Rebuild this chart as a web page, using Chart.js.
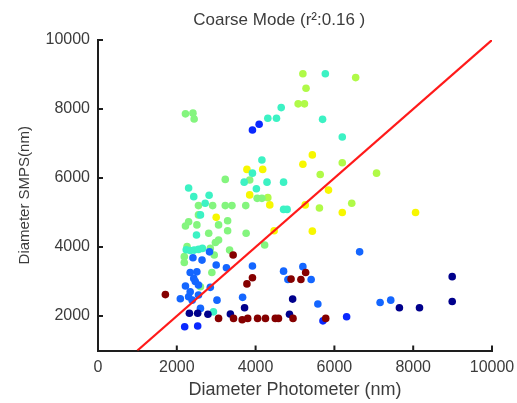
<!DOCTYPE html>
<html>
<head>
<meta charset="utf-8">
<script src="https://cdn.jsdelivr.net/npm/chart.js@4/dist/chart.umd.min.js"></script>
<style>
  html, body { margin: 0; padding: 0; background: #ffffff; }
  #wrap { width: 517px; height: 403px; }
</style>
</head>
<body>
<div id="wrap"><canvas id="c" width="517" height="403"></canvas></div>
<script>
// ---- data ----
const chartTitle = 'Coarse Mode (r\u00B2:0.16 )';
const xTitle = 'Diameter Photometer (nm)';
const yTitle = 'Diameter SMPS(nm)';
const xTicks = [0, 2000, 4000, 6000, 8000, 10000];
const yTicks = [2000, 4000, 6000, 8000, 10000];

const navyX = [8990, 8990, 7650, 8160, 4940, 4860, 3720, 2320, 2530, 2790, 3360];
const navyY = [3140, 2420, 2240, 2240, 2490, 2050, 2240, 2080, 2080, 2050, 2060];

const blueX = [3920, 4090, 6310, 5710, 2200, 2530];
const blueY = [7390, 7560, 1980, 1860, 1690, 1710];

const azureX = [6640, 5200, 5410, 5580, 7160, 7430, 4710, 4820, 3920, 3670, 3020, 3260, 3000, 2830, 2410, 2640, 2340, 2510, 2430, 2470, 2220, 2850, 2090, 2300, 2390, 2550, 2600, 2550, 2340];
const azureY = [3860, 3430, 3060, 2350, 2390, 2460, 3300, 3060, 3450, 2540, 2460, 3400, 3480, 3860, 3690, 3620, 3260, 3280, 3090, 3000, 2870, 2830, 2500, 2560, 2460, 2610, 2220, 2900, 2700];

const cyanX = [4310, 4530, 4650, 5770, 5700, 6200, 4160, 3920, 3710, 4290, 4710, 2300, 2430, 2820, 2720, 4020, 4710, 4800, 2500, 2240, 2340, 2440, 2550, 2650, 2930, 2600];
const cyanY = [7730, 7730, 8040, 9020, 7700, 7190, 6520, 6140, 5880, 5880, 5880, 5710, 5460, 5500, 5270, 5690, 5090, 5090, 4350, 3920, 3900, 3910, 3930, 3960, 2120, 4930];

const greenX = [2220, 2410, 2440, 3230, 3850, 2550, 2910, 3230, 3400, 3750, 4040, 4160, 2550, 2300, 2510, 3060, 3290, 3290, 3760, 2220, 2810, 3060, 2980, 2260, 2850, 3340, 2190, 2950, 2190, 2890, 2600, 4230];
const greenY = [7860, 7880, 7710, 5960, 5940, 5200, 5200, 5200, 5200, 5200, 5410, 5410, 4930, 4730, 4640, 4640, 4760, 4470, 4400, 4610, 4400, 4200, 4130, 4010, 3960, 3910, 3720, 3770, 3550, 3260, 2850, 4060];

const limeX = [5200, 5280, 5080, 5240, 6540, 6200, 5640, 7070, 5620, 6440, 4310];
const limeY = [9020, 8600, 8150, 8150, 8910, 6440, 6100, 6140, 5130, 5270, 5430];

const yellowX = [3780, 4180, 5200, 5440, 5850, 5260, 6200, 8060, 5440, 4470, 3850, 4360, 3000];
const yellowY = [6250, 6250, 6400, 6670, 5650, 5220, 5000, 5000, 4460, 4470, 5510, 5220, 4860];

const darkRedX = [3430, 3920, 3780, 1710, 5270, 5150, 4900, 5780, 3060, 3440, 3660, 3800, 4050, 4250, 4500, 4580, 4950];
const darkRedY = [3770, 3110, 2930, 2620, 3260, 3060, 3070, 1930, 1930, 1930, 1890, 1930, 1930, 1930, 1930, 1930, 1930];

const oneToOneX = [1000, 10000];
const oneToOneY = [1000, 10000];

// ---- helpers ----
function pts(xs, ys) { return xs.map((x, i) => ({ x: x, y: ys[i] })); }
function dotSet(label, xs, ys, color) {
  return {
    type: 'scatter', label: label, data: pts(xs, ys),
    backgroundColor: color, borderColor: color, borderWidth: 0,
    pointRadius: 3.8, pointHoverRadius: 3.8, order: 2
  };
}

const FONT = "'Liberation Sans', Arial, Helvetica, sans-serif";
const TXT = '#3c3c3c';

const innerTicks = {
  id: 'innerTicks',
  afterDraw(chart) {
    const ctx = chart.ctx, a = chart.chartArea;
    const xs = chart.scales.x, ys = chart.scales.y;
    ctx.save();
    ctx.strokeStyle = '#1e1e1e';
    ctx.lineWidth = 2;
    ctx.beginPath();
    xTicks.forEach(v => {
      const px = xs.getPixelForValue(v);
      ctx.moveTo(px, a.bottom); ctx.lineTo(px, a.bottom - 5);
    });
    yTicks.forEach(v => {
      const py = ys.getPixelForValue(v);
      ctx.moveTo(a.left, py); ctx.lineTo(a.left + 5, py);
    });
    ctx.stroke();
    // title
    ctx.fillStyle = TXT;
    ctx.font = '17px ' + FONT;
    ctx.textAlign = 'center';
    ctx.textBaseline = 'middle';
    ctx.fillText(chartTitle, a.left + (a.right - a.left) * 0.46, 20);
    ctx.restore();
  }
};

new Chart(document.getElementById('c'), {
  type: 'scatter',
  data: {
    datasets: [
      {
        type: 'line', label: '1:1', data: pts(oneToOneX, oneToOneY),
        borderColor: '#ff1a1a', borderWidth: 2.2, pointRadius: 0,
        fill: false, showLine: true, order: 0
      },
      dotSet('darkred', darkRedX, darkRedY, '#850000'),
      dotSet('navy', navyX, navyY, '#00008c'),
      dotSet('blue', blueX, blueY, '#0a28ff'),
      dotSet('azure', azureX, azureY, '#1466ff'),
      dotSet('cyan', cyanX, cyanY, '#3cf2c4'),
      dotSet('green', greenX, greenY, '#84f57e'),
      dotSet('lime', limeX, limeY, '#b0fa48'),
      dotSet('yellow', yellowX, yellowY, '#f7f700')
    ]
  },
  options: {
    responsive: false,
    animation: false,
    devicePixelRatio: 1,
    layout: { padding: { left: 0, right: 25, top: 40, bottom: 0 } },
    plugins: { legend: { display: false }, tooltip: { enabled: false }, title: { display: false } },
    scales: {
      x: {
        type: 'linear', min: 0, max: 10000,
        afterBuildTicks: s => { s.ticks = xTicks.map(v => ({ value: v })); },
        afterFit: s => { s.height = 52.5; s.paddingRight = 0; s.paddingLeft = 0; },
        grid: { display: false, drawTicks: false },
        border: { display: true, color: '#1e1e1e', width: 2 },
        ticks: { color: TXT, font: { family: FONT, size: 16 }, padding: 7, maxRotation: 0, autoSkip: false, callback: v => String(v) },
        title: { display: true, text: xTitle, color: TXT, font: { family: FONT, size: 18 }, padding: { top: 0, bottom: 2 } }
      },
      y: {
        type: 'linear', min: 1000, max: 10000,
        afterBuildTicks: s => { s.ticks = yTicks.map(v => ({ value: v })); },
        afterFit: s => { s.width = 98; s.paddingTop = 0; s.paddingBottom = 0; },
        grid: { display: false, drawTicks: false },
        border: { display: true, color: '#1e1e1e', width: 2 },
        ticks: { color: TXT, font: { family: FONT, size: 16 }, padding: 8, autoSkip: false, callback: v => String(v) },
        title: { display: true, text: yTitle, color: TXT, font: { family: FONT, size: 15 }, padding: { top: 16, bottom: 0 } }
      }
    }
  },
  plugins: [innerTicks]
});
</script>
</body>
</html>
